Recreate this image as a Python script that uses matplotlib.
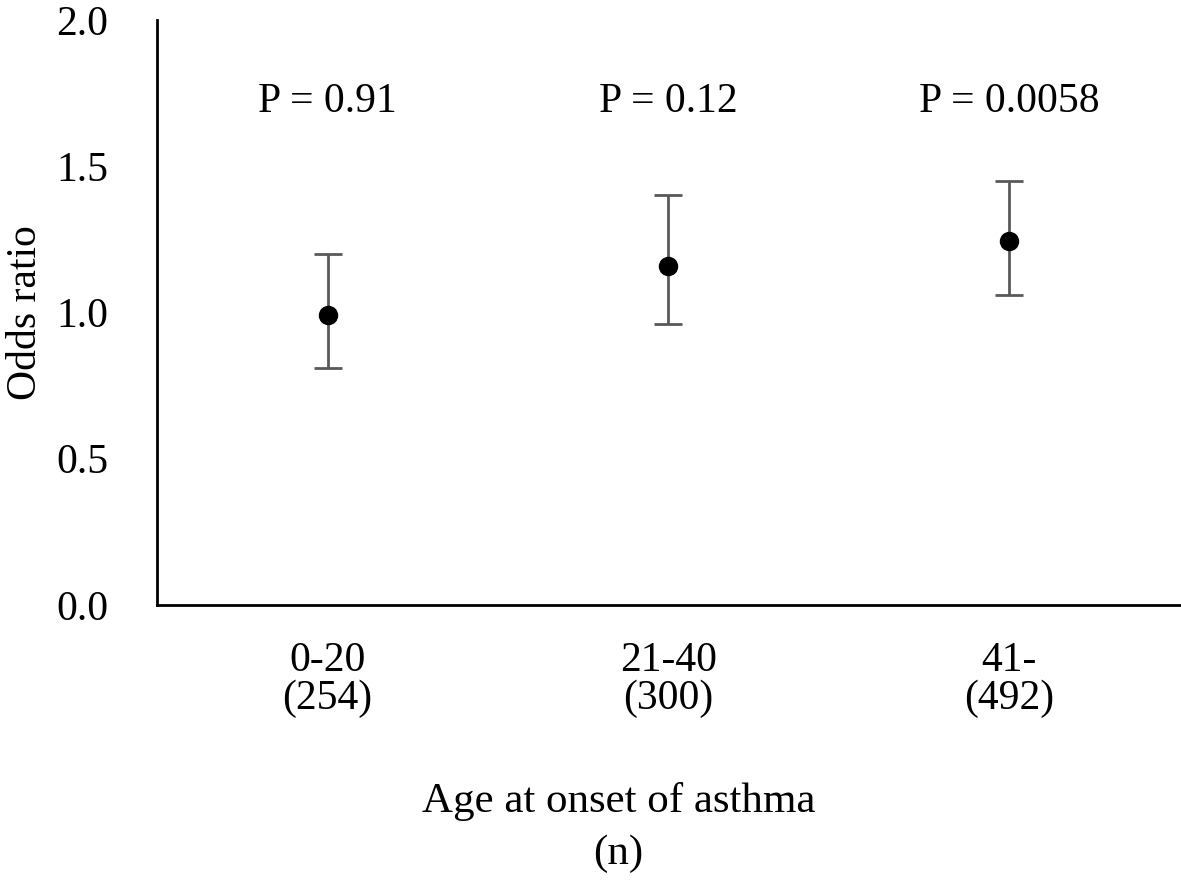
import matplotlib
matplotlib.use("Agg")
import matplotlib.pyplot as plt

categories = ["0-20\n(254)", "21-40\n(300)", "41-\n(492)"]
odds = [0.99, 1.16, 1.245]
ci_low = [0.81, 0.96, 1.06]
ci_high = [1.20, 1.40, 1.45]
p_labels = ["P = 0.91", "P = 0.12", "P = 0.0058"]
p_y = 1.72

plt.rcParams['font.family'] = ['Liberation Serif', 'DejaVu Serif']

fig = plt.figure(figsize=(11.81, 8.80), dpi=100)
ax = fig.add_axes([0.133, 0.3125, 0.866, 0.665])

x = list(range(len(categories)))
yerr = [[o - l for o, l in zip(odds, ci_low)], [h - o for o, h in zip(odds, ci_high)]]
ax.errorbar(x, odds, yerr=yerr, fmt='none', ecolor='#595959', elinewidth=2, capsize=10, capthick=2, zorder=2)
ax.plot(x, odds, 'o', color='black', markersize=13, zorder=3)

for xi, t in zip(x, p_labels):
    ax.text(xi, p_y, t, ha='center', va='center', fontsize=30)

ax.set_xlim(-0.5, 2.5)
ax.set_ylim(0, 2.0)
ax.set_yticks([0, 0.5, 1.0, 1.5, 2.0])
ax.set_yticklabels(["0.0", "0.5", "1.0", "1.5", "2.0"])
ax.set_xticks(x)
ax.set_xticklabels(categories, linespacing=1.0)
ax.tick_params(axis='both', length=0, labelsize=30)
ax.tick_params(axis='x', pad=26)
ax.tick_params(axis='y', pad=35)
for s in ['top', 'right']:
    ax.spines[s].set_visible(False)
for s in ['left', 'bottom']:
    ax.spines[s].set_linewidth(2)
ax.set_ylabel("Odds ratio", fontsize=30)
ax.yaxis.set_label_coords(-0.110, 0.5)
ax.set_xlabel("Age at onset of asthma\n(n)", fontsize=31, linespacing=1.45)
ax.xaxis.set_label_coords(0.451, -0.302)

fig.savefig("out.png", dpi=100)
